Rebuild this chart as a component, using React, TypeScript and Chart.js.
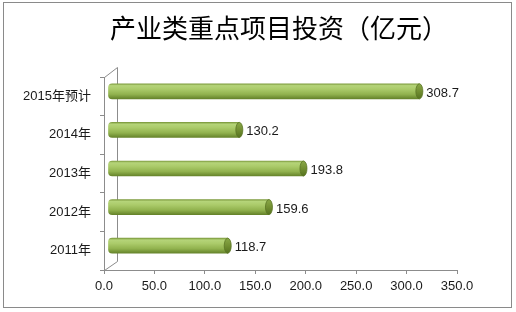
import React, { useEffect, useRef } from "react";
import { Chart, registerables } from "chart.js";

Chart.register(...registerables);

const categories: string[] = ["2011年", "2012年", "2013年", "2014年", "2015年预计"];
const investment: number[] = [118.7, 159.6, 193.8, 130.2, 308.7];
const xTicks = { min: 0, max: 350, step: 50 };
const titleText = "产业类重点项目投资（亿元）";

const FONT = "'Liberation Sans', 'Noto Sans CJK SC', sans-serif";
const DX = 4;
const DY = -5;
const BAR_H = 15;

const decorPlugin = {
  id: "decor",
  beforeDraw(chart: any) {
    const { ctx, width, height } = chart;
    ctx.save();
    ctx.fillStyle = "#ffffff";
    ctx.fillRect(0, 0, width, height);
    ctx.strokeStyle = "#8a8a8a";
    ctx.lineWidth = 1;
    ctx.strokeRect(3.5, 2.5, 508, 305);
    ctx.fillStyle = "#000000";
    ctx.font = "26px 'Noto Sans CJK SC', sans-serif";
    ctx.textAlign = "center";
    ctx.textBaseline = "middle";
    ctx.fillText(titleText, 279, 28);
    // 3D walls
    const a = chart.chartArea;
    const bx = a.left + 13;
    ctx.strokeStyle = "#8c8c8c";
    ctx.beginPath();
    ctx.moveTo(a.left + 0.5, a.top + 0.5);
    ctx.lineTo(bx + 0.5, a.top - 9.5);
    ctx.lineTo(bx + 0.5, a.bottom - 8.5);
    ctx.lineTo(a.left + 0.5, a.bottom + 0.5);
    ctx.stroke();
    ctx.restore();
  },
  beforeDatasetsDraw(chart: any) {
    chart.ctx.save();
    chart.ctx.translate(DX, DY);
  },
  afterDatasetsDraw(chart: any) {
    const { ctx } = chart;
    const meta = chart.getDatasetMeta(0);
    meta.data.forEach((el: any) => {
      const h = el.height;
      const g = ctx.createLinearGradient(0, el.y - h / 2, 0, el.y + h / 2);
      g.addColorStop(0, "#8aa948");
      g.addColorStop(0.5, "#728f32");
      g.addColorStop(1, "#56731f");
      ctx.beginPath();
      ctx.ellipse(el.x, el.y, 3.5, h / 2, 0, 0, Math.PI * 2);
      ctx.fillStyle = g;
      ctx.fill();
      ctx.strokeStyle = "#5a7524";
      ctx.lineWidth = 0.8;
      ctx.stroke();
    });
    ctx.restore();
    // data labels
    ctx.save();
    ctx.fillStyle = "#1a1a1a";
    ctx.font = "13px " + FONT;
    ctx.textAlign = "left";
    ctx.textBaseline = "middle";
    meta.data.forEach((el: any, i: number) => {
      ctx.fillText(investment[i].toFixed(1), el.x + DX + 7, el.y + DY + 2);
    });
    ctx.restore();
  },
};

export default function App() {
  const ref = useRef<HTMLCanvasElement>(null);
  useEffect(() => {
    if (!ref.current) return;
    const chart = new Chart(ref.current, {
      type: "bar",
      data: {
        labels: categories,
        datasets: [
          {
            data: investment,
            barThickness: BAR_H,
            borderSkipped: false,
            borderRadius: { topLeft: 4, bottomLeft: 4, topRight: 0, bottomRight: 0 },
            borderWidth: 0,
            backgroundColor: (c: any) => {
              const ch = c.chart;
              const ys = ch.scales && ch.scales.y;
              if (!ys || c.dataIndex === undefined) return "#9bbb59";
              const y = ys.getPixelForValue(c.dataIndex);
              if (!isFinite(y)) return "#9bbb59";
              const g = ch.ctx.createLinearGradient(0, y - BAR_H / 2, 0, y + BAR_H / 2);
              g.addColorStop(0, "#7f9d40");
              g.addColorStop(0.12, "#b5d479");
              g.addColorStop(0.35, "#abcb6a");
              g.addColorStop(0.7, "#91b24e");
              g.addColorStop(1, "#66842b");
              return g;
            },
          },
        ],
      },
      options: {
        indexAxis: "y",
        responsive: false,
        animation: false,
        layout: { padding: { top: 77, right: 59, left: 0, bottom: 0 } },
        plugins: {
          legend: { display: false },
          title: { display: false },
          tooltip: { enabled: false },
        },
        scales: {
          x: {
            min: xTicks.min,
            max: xTicks.max,
            afterFit: (s: any) => {
              s.height = 42;
            },
            ticks: {
              stepSize: xTicks.step,
              callback: (v: any) => Number(v).toFixed(1),
              color: "#1a1a1a",
              font: { family: FONT, size: 13 },
              padding: 5,
              maxRotation: 0,
            },
            grid: { drawOnChartArea: false, drawTicks: true, tickLength: 4, color: "#8c8c8c" },
            border: { display: true, color: "#8c8c8c" },
          },
          y: {
            reverse: true,
            afterFit: (s: any) => {
              s.width = 104;
            },
            ticks: {
              color: "#1a1a1a",
              font: { family: FONT, size: 13 },
              padding: 9,
            },
            grid: { drawOnChartArea: false, drawTicks: true, tickLength: 4, color: "#8c8c8c", offset: true },
            border: { display: true, color: "#8c8c8c" },
          },
        },
      },
      plugins: [decorPlugin],
    } as any);
    return () => chart.destroy();
  }, []);
  return (
    <div style={{ position: "fixed", left: 0, top: 0, width: 516, height: 312, background: "#fff" }}>
      <canvas ref={ref} width={516} height={312} style={{ display: "block" }} />
    </div>
  );
}
